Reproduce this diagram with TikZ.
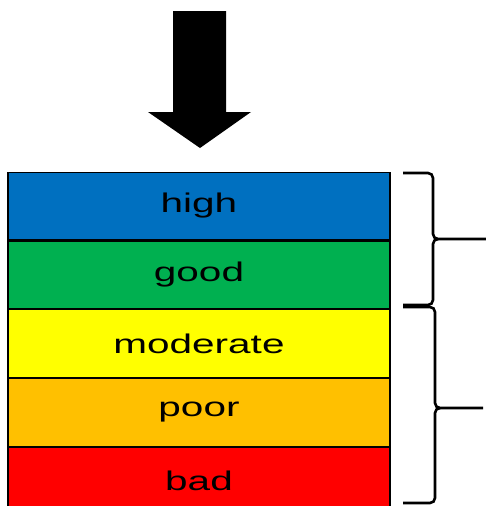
\documentclass[tikz,border=0pt]{standalone}
\usepackage{fontspec}
\setmainfont[FakeStretch=1.5]{Liberation Sans}
\usetikzlibrary{positioning}
\definecolor{cblue}{HTML}{0070C0}
\definecolor{cgreen}{HTML}{00B050}
\definecolor{cyellow}{HTML}{FFFF00}
\definecolor{corange}{HTML}{FFC000}
\definecolor{cred}{HTML}{FF0000}
\tikzstyle{classe}=[rectangle,draw=black,line width=1.2pt,minimum width=382pt,minimum height=67.6pt,inner sep=0pt,font=\fontsize{27}{29}\selectfont]
\tikzstyle{accolade}=[draw=black,line width=2.6pt]

\begin{document}
\begin{tikzpicture}[x=1pt,y=1pt]
\useasboundingbox (0,0) rectangle (486,-506);
\clip (0,0) rectangle (486,-506);

\node[classe,fill=cblue] (high) at (199,-206) {high};
\node[classe,fill=cgreen] (good) [below =0pt of high] {good};
\node[classe,fill=cyellow] (moderate) [below =0pt of good] {moderate};
\node[classe,fill=corange] (poor) [below =0pt of moderate] {poor};
\node[classe,fill=cred] (bad) [below =0pt of poor] {bad};

\coordinate (pointe) at (200,-148);
\fill (pointe) -- ++(-52,36) -- ++(25,0) -- ++(0,101) -- ++(53,0) -- ++(0,-101) -- ++(25,0) -- cycle;

\draw[accolade] (403,-173) -- (428,-173) to[out=0,in=90] (433,-178) -- (433,-234) to[out=-90,in=180] (438,-239) -- (486,-239);
\draw[accolade] (438,-239) to[out=180,in=90] (433,-244) -- (433,-300) to[out=-90,in=0] (428,-305) -- (403,-305);
\draw[accolade] (403,-307) -- (430,-307) to[out=0,in=90] (435,-312) -- (435,-403) to[out=-90,in=180] (440,-408) -- (483,-408);
\draw[accolade] (440,-408) to[out=180,in=90] (435,-413) -- (435,-498) to[out=-90,in=0] (430,-503) -- (403,-503);

\end{tikzpicture}
\end{document}
